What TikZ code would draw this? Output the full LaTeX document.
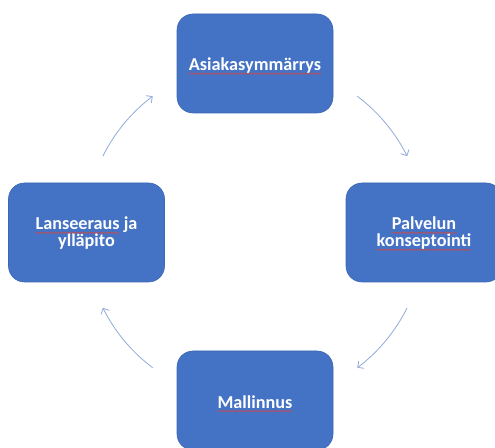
\documentclass[tikz,border=0pt]{standalone}
\usepackage{fontspec}
\setmainfont{Carlito}
\usetikzlibrary{arrows.meta,decorations.pathmorphing}
\definecolor{boxblue}{HTML}{4472C4}
\definecolor{boxedge}{HTML}{3B66B5}
\definecolor{arrowblue}{HTML}{8FAADC}
\definecolor{spellred}{HTML}{D04848}
\tikzset{
  stage/.style={rectangle, rounded corners=16pt, fill=boxblue, draw=boxedge,
    line width=0.6pt, minimum width=156pt, minimum height=99pt, inner sep=0pt},
  label text/.style={text=white, font=\bfseries\fontsize{18.2}{17}\selectfont,
    inner sep=0pt, outer sep=0pt, anchor=base},
  spell/.style={draw=spellred, line width=0.5pt, decorate,
    decoration={zigzag, amplitude=0.7pt, segment length=2.6pt}},
  cyclearrow/.style={draw=arrowblue, line width=0.8pt,
    -{Straight Barb[length=4.5pt,width=9pt]}}
}
\begin{document}
\begin{tikzpicture}[x=1pt,y=1pt]
\useasboundingbox (0,0) rectangle (495,447);
\clip (0,0) rectangle (495,447);
% boxes
\node[stage] (asiakas) at (255,383.5) {};
\node[stage] (palvelu) at (424,214.5) {};
\node[stage] (mallinnus) at (255,46.5) {};
\node[stage] (lanseeraus) at (86.5,214.5) {};
% texts
\node[label text] (t1) at ([yshift=-7.4pt]asiakas.center) {Asiakasymmärrys};
\node[label text] (p1) at ([yshift=2.5pt]palvelu.center) {Palvelun};
\node[label text] (p2) at ([yshift=-14.5pt]palvelu.center) {konseptointi};
\node[label text] (m1) at ([yshift=-7.8pt]mallinnus.center) {Mallinnus};
\node[label text] (l1) at ([yshift=2.5pt]lanseeraus.center) {Lanseeraus ja};
\node[label text] (l2) at ([yshift=-14.5pt]lanseeraus.center) {ylläpito};
% spelling marks
\draw[spell] ([yshift=-2.8pt]t1.base west) -- ([yshift=-2.8pt]t1.base east);
\draw[spell] ([yshift=-2.8pt]p1.base west) -- ([yshift=-2.8pt]p1.base east);
\draw[spell] ([yshift=-2.8pt]p2.base west) -- ([yshift=-2.8pt]p2.base east);
\draw[spell] ([yshift=-2.8pt]m1.base west) -- ([yshift=-2.8pt]m1.base east);
\draw[spell] ([yshift=-2.8pt]l1.base west) -- ([xshift=-17.8pt,yshift=-2.8pt]l1.base east);
% cycle arrows
\coordinate (c) at (255,215);
\draw[cyclearrow] ([shift={(53:170)}]c) arc[start angle=53, end angle=26.5, radius=170];
\draw[cyclearrow] ([shift={(-26.5:170)}]c) arc[start angle=-26.5, end angle=-53, radius=170];
\draw[cyclearrow] ([shift={(-127:170)}]c) arc[start angle=-127, end angle=-153.5, radius=170];
\draw[cyclearrow] ([shift={(153.5:170)}]c) arc[start angle=153.5, end angle=127, radius=170];
\end{tikzpicture}
\end{document}
